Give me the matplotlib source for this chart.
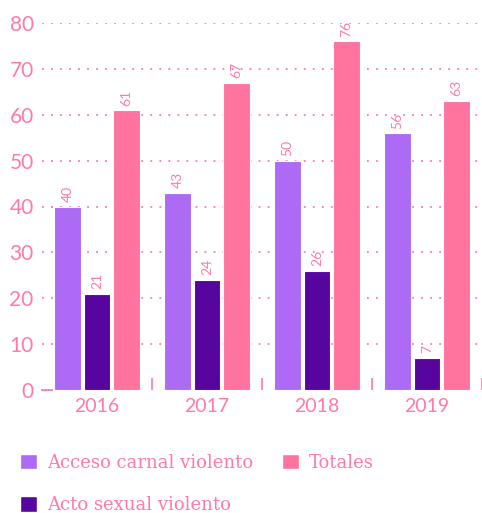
import matplotlib
matplotlib.use("Agg")
import matplotlib.pyplot as plt
from matplotlib.patches import Patch
import numpy as np

years = ["2016", "2017", "2018", "2019"]
acceso = [40, 43, 50, 56]
acto = [21, 24, 26, 7]
totales = [61, 67, 76, 63]
series_names = ["Acceso carnal violento", "Acto sexual violento", "Totales"]
colors = ["#AD6BF5", "#56069F", "#FF739F"]
text_color = "#FF7BA5"
yticks = [0, 10, 20, 30, 40, 50, 60, 70, 80]

fig = plt.figure(figsize=(4.82, 5.13), dpi=100)
ax = fig.add_axes([42/482, 1-390/513, 440/482, (390-23)/513])

x = np.arange(len(years))
w = 0.245
offsets = [-0.27, 0.0, 0.27]
for vals, off, c in zip([acceso, acto, totales], offsets, colors):
    bars = ax.bar(x + off, vals, width=w, color=c, edgecolor="white", linewidth=0.8, zorder=3)
    for b, v in zip(bars, vals):
        ax.text(b.get_x() + b.get_width()/2, v + 1.0, str(v), rotation=90,
                ha="center", va="bottom", fontsize=10, color=text_color,
                family="Lato", zorder=4)

ax.set_xlim(-0.5, 3.5)
ax.set_ylim(0, 80)
for s in ax.spines.values():
    s.set_visible(False)

# dotted gridlines
for yv in yticks[1:]:
    ax.axhline(yv, color=text_color, linestyle=(0, (1, 4)), linewidth=1.3, zorder=1)
# small dash at 0
ax.plot([-0.5, -0.41], [0, 0], color=text_color, linewidth=1.3, clip_on=False)

ax.set_yticks(yticks)
ax.set_yticklabels([str(v) for v in yticks], fontsize=15, color=text_color, family="Lato")
ax.tick_params(axis="y", length=0, pad=6)

ax.set_xticks(x)
ax.set_xticklabels(years, fontsize=14, color=text_color, family="Lato")
ax.tick_params(axis="x", length=0, pad=6)
ax.set_xticks(x + 0.5, minor=True)
ax.tick_params(axis="x", which="minor", direction="in", length=9, width=1.2, color=text_color)

handles = [Patch(facecolor=colors[i], edgecolor="white", label=series_names[i]) for i in range(3)]
leg = fig.legend(handles=handles, ncol=2, loc="upper left", bbox_to_anchor=(0.015, 0.14),
                 frameon=False, prop={"family": "DejaVu Serif", "size": 13},
                 handlelength=0.95, handleheight=0.95, handletextpad=0.55,
                 columnspacing=1.6, labelspacing=1.35, borderaxespad=0.3)
for t in leg.get_texts():
    t.set_color(text_color)

fig.savefig("out.png", dpi=100)
